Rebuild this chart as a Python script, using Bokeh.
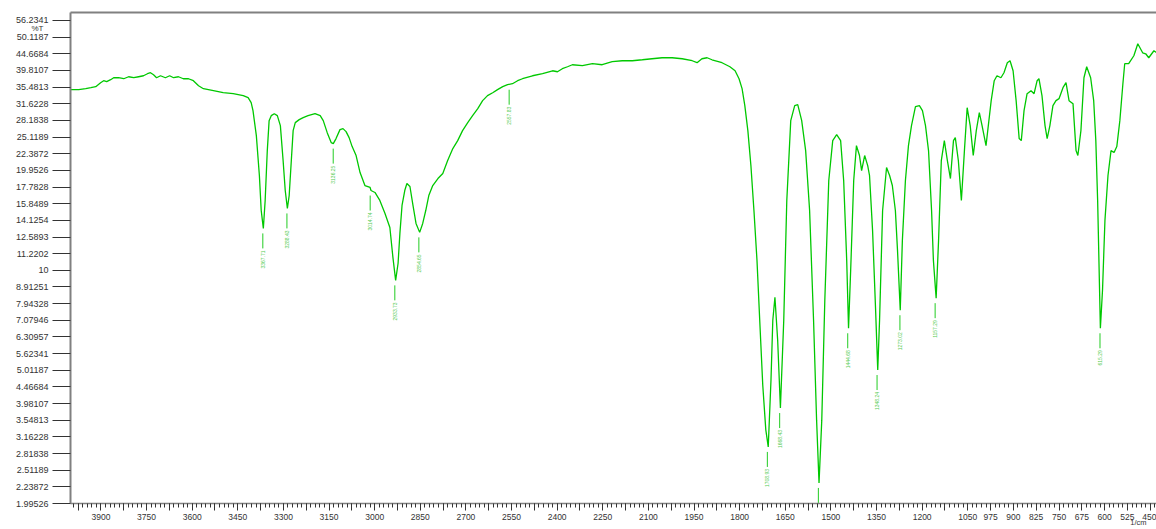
import numpy as np
from bokeh.plotting import figure
from bokeh.models import (Range1d, FixedTicker, CustomJSTickFormatter, LinearAxis,
                          Label, ColumnDataSource)
from bokeh.core.properties import value
from bokeh.embed import file_html
from bokeh.resources import INLINE

# ---------------- data ----------------
wavenumber = [
    3999, 3973, 3950, 3933, 3917, 3901, 3891, 3881, 3868, 3858,
    3842, 3825, 3809, 3792, 3776, 3760, 3747, 3737, 3727, 3717,
    3704, 3688, 3674, 3661, 3645, 3629, 3612, 3596, 3579, 3563,
    3530, 3498, 3465, 3432, 3416, 3406, 3400, 3389, 3379, 3373,
    3366, 3360, 3353, 3347, 3340, 3330, 3320, 3310, 3301, 3294,
    3287, 3281, 3274, 3268, 3261, 3248, 3235, 3219, 3196, 3179,
    3169, 3156, 3143, 3136, 3127, 3114, 3104, 3094, 3084, 3074,
    3061, 3048, 3032, 3015, 3012, 2999, 2983, 2966, 2950, 2940,
    2931, 2923, 2917, 2910, 2901, 2894, 2884, 2874, 2864, 2852,
    2842, 2832, 2822, 2809, 2792, 2776, 2760, 2743, 2727, 2711,
    2694, 2678, 2661, 2645, 2629, 2612, 2596, 2579, 2563, 2547,
    2530, 2514, 2481, 2448, 2415, 2399, 2383, 2366, 2350, 2317,
    2284, 2252, 2219, 2186, 2153, 2120, 2088, 2055, 2022, 1989,
    1956, 1940, 1924, 1907, 1891, 1858, 1832, 1815, 1802, 1792,
    1783, 1773, 1763, 1753, 1743, 1734, 1724, 1714, 1706, 1697,
    1691, 1684, 1675, 1666, 1655, 1645, 1632, 1619, 1609, 1596,
    1583, 1570, 1557, 1547, 1539, 1530, 1520, 1507, 1494, 1481,
    1468, 1458, 1448, 1442, 1435, 1425, 1416, 1406, 1399, 1389,
    1379, 1373, 1363, 1353, 1346, 1340, 1330, 1317, 1307, 1298,
    1288, 1281, 1272, 1265, 1255, 1245, 1235, 1222, 1209, 1199,
    1189, 1179, 1169, 1163, 1154, 1146, 1137, 1127, 1117, 1107,
    1097, 1091, 1081, 1071, 1061, 1052, 1042, 1032, 1022, 1012,
    1003, 990, 973, 963, 954, 941, 931, 920, 911, 901,
    891, 881, 874, 865, 855, 842, 832, 822, 816, 806,
    796, 789, 780, 770, 760, 750, 737, 727, 717, 704,
    694, 688, 678, 668, 659, 646, 636, 629, 623, 614,
    607, 599, 589, 579, 569, 560, 550, 540, 534, 521,
    504, 491, 475, 465, 455, 438, 429,
]
transmittance = [
    34.86, 34.86, 35.10, 35.34, 35.59, 36.58, 37.09, 36.84, 37.35, 37.86,
    37.86, 37.60, 38.12, 37.86, 38.12, 38.38, 38.92, 39.19, 38.65, 37.86,
    38.38, 37.86, 38.38, 37.86, 38.12, 37.60, 37.60, 37.09, 35.83, 35.10,
    34.62, 34.14, 33.91, 33.45, 32.99, 31.87, 30.15, 25.37, 19.26, 15.12,
    13.36, 16.21, 22.88, 28.14, 29.13, 29.53, 29.13, 27.19, 21.36, 17.36,
    15.34, 16.77, 21.36, 26.27, 27.76, 28.34, 28.73, 29.13, 29.53, 29.13,
    28.14, 25.90, 24.18, 24.01, 24.86, 26.45, 26.63, 26.09, 25.02, 23.52,
    22.11, 19.66, 17.97, 17.73, 17.36, 17.13, 16.21, 14.82, 13.45, 10.94,
    9.33, 10.50, 12.91, 15.66, 17.36, 18.22, 17.85, 15.66, 13.83, 13.00,
    13.83, 15.12, 16.77, 17.97, 18.86, 19.53, 21.36, 23.20, 24.51, 26.27,
    27.76, 29.13, 30.57, 32.31, 33.45, 34.14, 34.86, 35.59, 36.08, 36.33,
    37.09, 37.60, 38.38, 38.92, 39.73, 39.46, 40.29, 40.85, 41.42, 41.14,
    41.71, 41.42, 42.29, 42.58, 42.58, 42.87, 43.17, 43.47, 43.47, 43.17,
    42.58, 42.00, 43.17, 43.47, 42.87, 42.00, 40.85, 39.73, 37.60, 35.10,
    31.21, 26.27, 20.63, 15.12, 10.71, 7.08, 4.52, 3.32, 2.95, 4.68,
    7.08, 8.30, 6.17, 3.86, 7.08, 16.21, 28.14, 31.21, 31.43, 28.14,
    22.88, 15.12, 7.08, 3.55, 2.30, 3.55, 8.13, 18.60, 24.51, 25.55,
    24.51, 18.60, 10.71, 6.70, 10.00, 18.60, 23.68, 22.11, 19.93, 22.11,
    20.63, 19.26, 13.18, 7.59, 5.02, 7.08, 15.12, 20.35, 19.26, 17.97,
    15.12, 11.48, 7.59, 12.30, 18.60, 23.68, 27.19, 30.99, 31.21, 30.15,
    27.19, 22.88, 15.12, 10.71, 8.25, 12.30, 21.36, 24.51, 21.36, 18.86,
    24.51, 25.02, 21.36, 16.21, 22.88, 30.78, 27.19, 22.11, 26.27, 29.74,
    27.19, 23.68, 32.31, 37.09, 38.38, 37.86, 39.19, 42.00, 42.58, 39.73,
    32.31, 24.86, 24.51, 30.15, 33.91, 34.62, 33.91, 37.09, 37.60, 33.45,
    27.19, 24.86, 27.19, 31.21, 32.31, 32.76, 35.34, 36.58, 32.31, 31.65,
    22.88, 22.11, 26.27, 37.86, 40.85, 37.86, 32.31, 24.51, 16.21, 6.70,
    8.71, 14.12, 19.26, 22.88, 22.57, 23.52, 28.14, 36.33, 41.71, 41.71,
    44.07, 47.87, 44.99, 44.68, 43.47, 45.62, 44.99,
]

peak_wn = [3367.71, 3288.43, 3136.25, 3014.74, 2933.73, 2854.65, 2557.83,
           1708.93, 1668.43, 1541.18, 1444.68, 1348.24, 1273.02, 1157.29, 615.29]
peak_labels = ["%.2f" % w for w in peak_wn]

y_ticks = [1.99526, 2.23872, 2.51189, 2.81838, 3.16228, 3.54813, 3.98107, 4.46684,
           5.01187, 5.62341, 6.30957, 7.07946, 7.94328, 8.91251, 10, 11.2202,
           12.5893, 14.1254, 15.8489, 17.7828, 19.9526, 22.3872, 25.1189, 28.1838,
           31.6228, 35.4813, 39.8107, 44.6684, 50.1187, 56.2341]
x_tick_labels = [3900, 3750, 3600, 3450, 3300, 3150, 3000, 2850, 2700, 2550, 2400,
                 2250, 2100, 1950, 1800, 1650, 1500, 1350, 1200, 1050, 975, 900,
                 825, 750, 675, 600, 525, 450]

Y_MIN, Y_MAX = 1.99526, 59.43

# ---------------- figure ----------------
FONT = "Liberation Sans"
p = figure(width=1156, height=529, output_backend="svg", toolbar_location=None,
           x_range=Range1d(4000, 429.5), y_range=Range1d(Y_MIN, Y_MAX),
           y_axis_type="log",
           min_border_left=67, min_border_right=0, min_border_top=12, min_border_bottom=26)
p.background_fill_color = "white"
p.border_fill_color = "white"
p.outline_line_color = None
p.xgrid.visible = False
p.ygrid.visible = False

# y axis
ya = p.yaxis[0]
ya.ticker = FixedTicker(ticks=y_ticks)
ya.formatter = CustomJSTickFormatter(code="return Number(tick.toPrecision(6)).toString();")
ya.major_tick_out = 18
ya.major_tick_in = 0
ya.minor_tick_line_color = None
ya.major_tick_line_color = "#333333"
ya.axis_line_color = "#808080"
ya.axis_line_width = 2
ya.major_label_standoff = 4
ya.major_label_text_font = FONT
ya.major_label_text_font_size = "9px"
ya.major_label_text_color = "#333333"

# x axis
xa = p.xaxis[0]
xa.ticker = FixedTicker(ticks=list(range(3975, 449, -75)),
                        minor_ticks=list(range(3990, 429, -15)))
xa.formatter = CustomJSTickFormatter(args=dict(labels=x_tick_labels),
                                     code="return labels.indexOf(Math.round(tick)) >= 0 ? String(Math.round(tick)) : '';")
xa.major_tick_out = 7
xa.major_tick_in = 0
xa.minor_tick_out = 4
xa.minor_tick_in = 0
xa.major_tick_line_color = "#333333"
xa.minor_tick_line_color = "#333333"
xa.axis_line_color = "#808080"
xa.axis_line_width = 1.5
xa.major_label_standoff = 3
xa.major_label_text_font = FONT
xa.major_label_text_font_size = "8.5px"
xa.major_label_text_color = "#333333"

# top frame line
top = LinearAxis(ticker=FixedTicker(ticks=[]), major_tick_out=0, minor_tick_out=0,
                 major_tick_in=0, minor_tick_in=0, axis_line_color="#808080",
                 axis_line_width=2, major_label_text_font_size="0px")
p.add_layout(top, "above")

# spectrum
p.line(wavenumber, transmittance, line_color="#00c800", line_width=1.3)

# peak markers
wn_arr = np.array(wavenumber, dtype=float)
t_arr = np.array(transmittance, dtype=float)
peak_t = np.array([t_arr[np.abs(wn_arr - w) <= 7].min() for w in peak_wn])
px_per_decade = 333.0
y0 = peak_t / 10 ** (5 / px_per_decade)
y1 = peak_t / 10 ** (20 / px_per_decade)
yt = peak_t / 10 ** (22 / px_per_decade)
seg_src = ColumnDataSource(dict(x=peak_wn, y0=y0, y1=np.maximum(y1, Y_MIN)))
p.segment(x0="x", x1="x", y0="y0", y1="y1", source=seg_src, line_color="#22cc22", line_width=1)

# only labels whose text lies inside the frame are visible in the reference
vis = yt / 10 ** (22 / px_per_decade) > Y_MIN
txt_src = ColumnDataSource(dict(x=np.array(peak_wn)[vis], y=yt[vis],
                                lab=np.array(peak_labels)[vis]))
p.text(x="x", y="y", text="lab", source=txt_src, angle=np.pi / 2, text_align="right",
       text_baseline="middle", text_font=value(FONT), text_font_size="5px",
       text_color="#55cc55")

# axis captions (placed in side panels so that they are not clipped to the frame)
p.add_layout(Label(x=43, y=475, x_units="screen", y_units="screen", text="%T",
                   text_align="right", text_baseline="middle", text_font=FONT,
                   text_font_size="8px", text_color="#333333"), "left")
p.add_layout(Label(x=1076, y=-505, x_units="screen", y_units="screen", text="1/cm",
                   text_align="right", text_baseline="top", text_font=FONT,
                   text_font_size="7.5px", text_color="#333333"), "above")

open("out.html", "w").write(file_html(p, INLINE))
